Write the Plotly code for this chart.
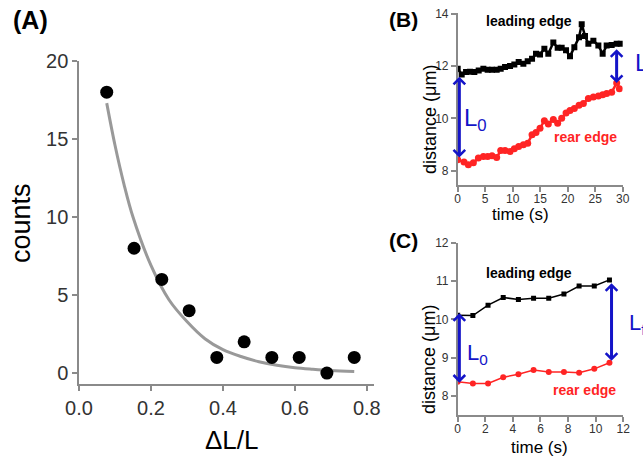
import plotly.graph_objects as go

# ---------------- Panel A data ----------------
a_x = [0.077, 0.153, 0.23, 0.306, 0.383, 0.459, 0.536, 0.612, 0.689, 0.765]
a_counts = [18, 8, 6, 4, 1, 2, 1, 1, 0, 1]
fit_x = [0.077, 0.10, 0.125, 0.15, 0.2, 0.25, 0.3, 0.35, 0.4, 0.45, 0.5, 0.55, 0.6, 0.65, 0.7, 0.765]
fit_y = [17.3, 14.6, 12.1, 10.0, 6.9, 4.7, 3.3, 2.2, 1.5, 1.06, 0.73, 0.5, 0.34, 0.24, 0.16, 0.1]
a_xticks = [0.0, 0.2, 0.4, 0.6, 0.8]
a_yticks = [0, 5, 10, 15, 20]

# ---------------- Panel B data ----------------
b_lead_t = [0, 0.73, 1.52, 2.24, 3.03, 3.82, 4.67, 5.45, 6.24, 7.09, 7.82, 8.61, 9.52, 10.3,
            11.09, 11.94, 12.73, 13.52, 14.24, 14.97, 15.76, 16.48, 17.39, 18.18, 18.91, 19.7,
            20.42, 21.21, 22.06, 22.55, 23.15, 23.76, 24.67, 25.58, 26.36, 27.09, 28.0, 28.91, 29.64]
b_lead = [11.9, 11.68, 11.77, 11.78, 11.77, 11.83, 11.9, 11.86, 11.86, 11.86, 11.9, 11.96, 12.0,
          12.06, 12.15, 12.09, 12.18, 12.28, 12.47, 12.44, 12.66, 12.47, 12.9, 12.7, 12.7, 12.6,
          12.37, 12.72, 13.1, 13.6, 13.15, 12.85, 12.97, 12.78, 12.47, 12.78, 12.8, 12.85, 12.85]
b_rear_t = [0, 1.15, 1.94, 2.85, 3.76, 4.67, 5.45, 6.24, 7.09, 7.82, 8.61, 9.52, 10.3, 11.09,
            11.94, 12.73, 13.52, 14.24, 14.97, 15.76, 16.48, 17.39, 18.18, 18.91, 19.7, 20.42,
            21.21, 22.06, 22.85, 23.76, 24.67, 25.58, 26.36, 27.09, 28.0, 28.91, 29.4]
b_rear = [8.42, 8.33, 8.23, 8.3, 8.48, 8.54, 8.54, 8.57, 8.5, 8.77, 8.77, 8.73, 8.84, 8.92, 8.99,
          9.05, 9.37, 9.46, 9.62, 9.91, 9.78, 9.96, 9.81, 10.0, 10.2, 10.3, 10.38, 10.5, 10.57,
          10.76, 10.82, 10.85, 10.9, 10.95, 11.0, 11.35, 11.13]
b_xticks = [0, 5, 10, 15, 20, 25, 30]
b_yticks = [8, 10, 12, 14]

# ---------------- Panel C data ----------------
c_t = [0, 1.1, 2.2, 3.3, 4.4, 5.5, 6.6, 7.7, 8.8, 9.9, 11.0]
c_lead = [10.11, 10.1, 10.37, 10.57, 10.52, 10.55, 10.55, 10.66, 10.87, 10.87, 11.03]
c_rear = [8.37, 8.33, 8.33, 8.49, 8.57, 8.68, 8.63, 8.63, 8.61, 8.71, 8.87]
c_xticks = [0, 2, 4, 6, 8, 10, 12]
c_yticks = [8, 9, 10, 11, 12]

FONT = "Liberation Sans, Arial, sans-serif"
BLUE = "#1414c8"
RED = "#ff2424"
AXC = "#8a8a8a"

fig = go.Figure()

# Panel A
fig.add_trace(go.Scatter(x=fit_x, y=fit_y, mode="lines", line=dict(color="#999999", width=3, shape="spline"),
                         xaxis="x", yaxis="y", showlegend=False))
fig.add_trace(go.Scatter(x=a_x, y=a_counts, mode="markers", marker=dict(color="black", size=13),
                         xaxis="x", yaxis="y", showlegend=False))
# Panel B
fig.add_trace(go.Scatter(x=b_lead_t, y=b_lead, mode="lines+markers", line=dict(color="black", width=2.5),
                         marker=dict(symbol="square", size=6, color="black"),
                         xaxis="x2", yaxis="y2", showlegend=False))
fig.add_trace(go.Scatter(x=b_rear_t, y=b_rear, mode="lines+markers", line=dict(color=RED, width=2.5),
                         marker=dict(symbol="circle", size=7, color=RED),
                         xaxis="x2", yaxis="y2", showlegend=False))
# Panel C
fig.add_trace(go.Scatter(x=c_t, y=c_lead, mode="lines+markers", line=dict(color="black", width=1.5),
                         marker=dict(symbol="square", size=5, color="black"),
                         xaxis="x3", yaxis="y3", showlegend=False))
fig.add_trace(go.Scatter(x=c_t, y=c_rear, mode="lines+markers", line=dict(color=RED, width=1.5),
                         marker=dict(symbol="circle", size=6, color=RED),
                         xaxis="x3", yaxis="y3", showlegend=False))

def ax(domain, rng, ticks, size, anchor, labels=None, standoff=0):
    d = dict(domain=domain, range=rng, tickvals=ticks, showline=True, linecolor=AXC, linewidth=1.5,
             ticks="outside", ticklen=5, tickcolor=AXC, tickwidth=1.5, showgrid=False, zeroline=False,
             automargin=False, ticklabelstandoff=standoff,
             tickfont=dict(family=FONT, size=size, color="#333333"), anchor=anchor)
    if labels is not None:
        d["ticktext"] = labels
    return d

fig.update_layout(
    width=643, height=458, margin=dict(l=0, r=0, t=0, b=0, autoexpand=False),
    paper_bgcolor="white", plot_bgcolor="white",
    xaxis=ax([0.1229, 0.5817], [0, 0.82], a_xticks, 20, "y", [f"{v:.1f}" for v in a_xticks]),
    yaxis=ax([0.1616, 0.8668], [-0.7, 20], a_yticks, 20, "x"),
    xaxis2=ax([0.7118, 0.9684], [0, 30], b_xticks, 12, "y2", standoff=-3),
    yaxis2=ax([0.596, 0.9712], [7.45, 14.02], b_yticks, 12, "x2"),
    xaxis3=ax([0.7118, 0.9693], [0, 12], c_xticks, 12, "y3", standoff=-3),
    yaxis3=ax([0.0934, 0.4701], [7.5, 12], c_yticks, 12, "x3"),
)

ann = []
def ptxt(x, y, text, size, bold=False, color="black", angle=0):
    ann.append(dict(xref="paper", yref="paper", x=x / 643, y=1 - y / 458, text=f"<b>{text}</b>" if bold else text,
                    showarrow=False, textangle=angle, xanchor="center", yanchor="middle",
                    font=dict(family=FONT, size=size, color=color)))

ptxt(31, 20, "(A)", 25, bold=True)
ptxt(403, 20, "(B)", 21, bold=True)
ptxt(403, 240, "(C)", 21, bold=True)
ptxt(21, 223, "counts", 27, angle=-90)
ptxt(232, 440, "ΔL/L", 26)
ptxt(430, 120, "distance (μm)", 18, angle=-90)
ptxt(520, 214, "time (s)", 17)
ptxt(429, 360, "distance (μm)", 18, angle=-90)
ptxt(539, 447, "time (s)", 17)
# L_f labels beyond the plot edges (positioned in paper space)
ptxt(644, 64, "L<sub>f</sub>", 24, color=BLUE)
ptxt(637, 324, "L<sub>f</sub>", 22, color=BLUE)

def dtxt(xr, yr, x, y, text, size, color, bold=False):
    ann.append(dict(xref=xr, yref=yr, x=x, y=y, text=f"<b>{text}</b>" if bold else text, showarrow=False,
                    xanchor="center", yanchor="middle", font=dict(family=FONT, size=size, color=color)))

dtxt("x2", "y2", 13, 13.74, "leading edge", 14, "black", True)
dtxt("x2", "y2", 23.2, 9.3, "rear edge", 14, RED, True)
dtxt("x3", "y3", 5.2, 11.2, "leading edge", 14, "black", True)
dtxt("x3", "y3", 9.2, 8.16, "rear edge", 14, RED, True)
dtxt("x2", "y2", 3.3, 9.95, "L<sub>0</sub>", 24, BLUE)
dtxt("x3", "y3", 1.45, 9.1, "L<sub>0</sub>", 22, BLUE)

def arrow(xr, yr, x, y0, y1):
    ann.append(dict(xref=xr, yref=yr, axref=xr, ayref=yr, x=x, y=y1, ax=x, ay=y0, showarrow=True,
                    arrowhead=4, startarrowhead=4, arrowside="end+start", arrowsize=0.75, startarrowsize=0.75,
                    arrowwidth=3, arrowcolor=BLUE, text="", standoff=0, startstandoff=0))

arrow("x2", "y2", 0.3, 11.65, 8.5)
arrow("x2", "y2", 28.9, 12.7, 11.35)
arrow("x3", "y3", 0.12, 10.2, 8.35)
arrow("x3", "y3", 11.15, 10.98, 8.92)

fig.update_layout(annotations=ann)
fig.write_html("out.html", config={"displayModeBar": False},
               post_script="document.body.style.margin='0';")
